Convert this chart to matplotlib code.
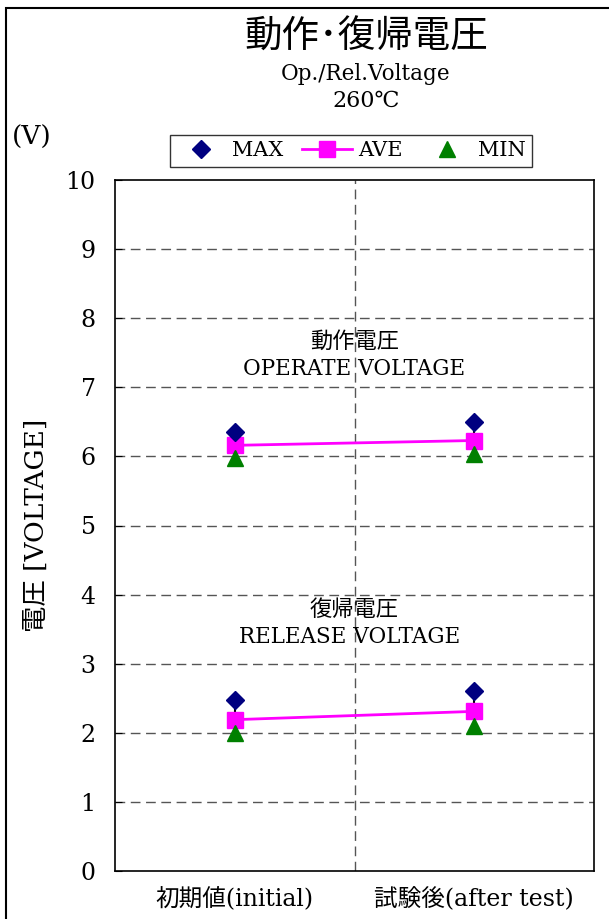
import matplotlib.pyplot as plt
from matplotlib.patches import Rectangle

plt.rcParams['font.family'] = ['DejaVu Serif', 'Noto Sans CJK JP']

# data
categories = ['初期値(initial)', '試験後(after test)']
op_max = [6.35, 6.50]
op_ave = [6.16, 6.23]
op_min = [5.98, 6.04]
rel_max = [2.47, 2.60]
rel_ave = [2.19, 2.31]
rel_min = [2.00, 2.10]
yticks = list(range(0, 11))

W, H = 609, 919
fig = plt.figure(figsize=(W / 100, H / 100), dpi=100)

# outer frame (runs off right and bottom edges)
fig.patches.append(Rectangle((5.5 / W, -0.05), 1.2, 1 - 8 / H + 0.05,
                             transform=fig.transFigure, fill=False,
                             edgecolor='black', linewidth=1.5))

ax = fig.add_axes([115 / W, 48 / H, 479 / W, 691 / H])
xs = [0.5, 1.5]

ax.set_xlim(0, 2)
ax.set_ylim(0, 10)
ax.set_yticks(yticks)
ax.set_xticks(xs)
ax.set_xticklabels(categories, fontsize=17)
ax.tick_params(axis='y', direction='in', length=5, labelsize=17, pad=14)
ax.tick_params(axis='x', length=0, pad=12)

# grid
for y in yticks[1:-1]:
    ax.axhline(y, color='#555555', linestyle=(0, (7, 4)), linewidth=1, zorder=1)
ax.axvline(1, color='#555555', linestyle=(0, (7, 4)), linewidth=1, zorder=1)

for s in ax.spines.values():
    s.set_linewidth(1.2)

# high-low lines
ax.vlines(xs, op_min, op_max, color='black', linewidth=1.5, zorder=2)
ax.vlines(xs, rel_min, rel_max, color='black', linewidth=1.5, zorder=2)

mk = dict(linestyle='none', zorder=4)
h_max, = ax.plot(xs, op_max, marker='D', color='#000080', markersize=9, **mk)
ax.plot(xs, rel_max, marker='D', color='#000080', markersize=9, **mk)
h_min, = ax.plot(xs, op_min, marker='^', color='#008000', markersize=11, **mk)
ax.plot(xs, rel_min, marker='^', color='#008000', markersize=11, **mk)
h_ave, = ax.plot(xs, op_ave, marker='s', color='#FF00FF', markersize=11,
                 linewidth=2, zorder=3)
ax.plot(xs, rel_ave, marker='s', color='#FF00FF', markersize=11,
        linewidth=2, zorder=3)

# annotations
ax.text(1, 7.66, '動作電圧', ha='center', va='center', fontsize=16)
ax.text(1, 7.27, 'OPERATE VOLTAGE', ha='center', va='center', fontsize=15.5)
ax.text(1, 3.77, '復帰電圧', ha='center', va='center', fontsize=16)
ax.text(0.98, 3.38, 'RELEASE VOLTAGE', ha='center', va='center', fontsize=15.5)

ax.set_ylabel('電圧 [VOLTAGE]', fontsize=19, labelpad=12)

# titles
fig.text(366 / W, 1 - 38 / H, '動作･復帰電圧', ha='center', va='center', fontsize=27)
fig.text(366 / W, 1 - 74 / H, 'Op./Rel.Voltage', ha='center', va='center',
         fontsize=15.5)
fig.text(366 / W, 1 - 101 / H, '260℃', ha='center', va='center', fontsize=16)
fig.text(12 / W, 1 - 137 / H, '(V)', ha='left', va='center', fontsize=19)

leg = fig.legend([h_max, h_ave, h_min], ['MAX', 'AVE', 'MIN'], ncol=3,
                 loc='center', bbox_to_anchor=(351 / W, 1 - 151 / H),
                 fontsize=15, frameon=True, fancybox=False, edgecolor='black',
                 handlelength=2.4, columnspacing=0.9, handletextpad=0.3,
                 borderpad=0.3, borderaxespad=0)
leg.get_frame().set_linewidth(1)

fig.savefig('out.png', dpi=100)
